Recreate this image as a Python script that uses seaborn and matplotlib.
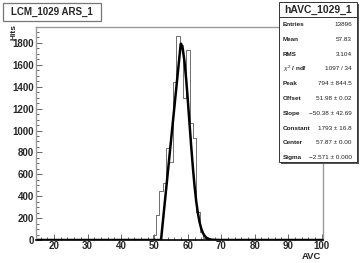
import numpy as np
import pandas as pd
import matplotlib
matplotlib.use("Agg")
import matplotlib.pyplot as plt
from matplotlib.patches import Rectangle
from matplotlib.ticker import MultipleLocator
import seaborn as sns

# ---------------- data ----------------
bin_centers = [50, 51, 52, 53, 54, 55, 56, 57, 58, 59, 60, 61, 62, 63, 64, 65, 66, 67]
bin_counts = [50, 230, 450, 518, 837, 710, 1446, 1863, 1780, 1294, 1735, 1065, 928, 259, 76, 20, 10, 5]

fit_x = [14.5, 51.98, 53.0, 54.0, 55.0, 56.0, 57.0, 57.5, 57.87, 58.0, 58.5, 59.0, 59.5,
         60.0, 60.5, 61.0, 61.5, 62.0, 62.5, 63.0, 63.5, 64.0, 64.5, 65.0, 65.5, 66.0,
         67.0, 68.0, 70.0, 100.5]
fit_y = [0, 0, 311, 615, 920, 1224, 1528, 1680, 1793, 1791, 1740, 1628, 1467,
         1272, 1063, 855, 662, 494, 354, 245, 163, 104, 64, 38, 22, 12,
         3, 1, 0, 0]

title_text = "LCM_1029 ARS_1"
stats_title = "hAVC_1029_1"
stats_labels = ["Entries", "Mean", "RMS", r"$\chi^2$ / ndf", "Peak", "Offset",
                "Slope", "Constant", "Center", "Sigma"]
stats_values = ["13896", "57.83", "3.104", "1097 / 34", "794 ± 844.5", "51.98 ± 0.02",
                "−50.38 ± 42.69", "1793 ± 16.8", "57.87 ± 0.00", "−2.571 ± 0.000"]
x_label = "AVC"
y_label = "Hits"

# ---------------- style ----------------
sns.set_theme(style="white")
plt.rcParams["font.family"] = ["Liberation Sans", "DejaVu Sans"]
plt.rcParams["mathtext.fontset"] = "custom"
plt.rcParams["mathtext.rm"] = "Liberation Sans"
plt.rcParams["mathtext.it"] = "Liberation Sans:italic"

W, H = 360, 263
fig = plt.figure(figsize=(W / 100, H / 100), dpi=100)
fig.patch.set_facecolor("white")


def px(x, y):
    return x / W, 1 - y / H


ax_l, ax_r, ax_t, ax_b = 35.7, 323.3, 26.7, 240.0
ax = fig.add_axes([ax_l / W, 1 - ax_b / H, (ax_r - ax_l) / W, (ax_b - ax_t) / H])
ax.set_facecolor("white")

# histogram: all unit bins across the axis, empty ones are zero
all_centers = np.arange(15, 101).astype(float)
count_map = dict(zip(bin_centers, bin_counts))
df = pd.DataFrame({"avc": all_centers,
                   "hits": [float(count_map.get(int(c), 0)) for c in all_centers]})
sns.histplot(data=df, x="avc", weights="hits", binwidth=1.0, binrange=(14.5, 100.5),
             element="step", fill=False, color="#6e6e6e", linewidth=0.7, ax=ax)

# fit curve
sns.lineplot(x=fit_x, y=fit_y, color="black", linewidth=1.8, ax=ax, sort=True)

ax.set_xlim(14.5, 100.5)
ax.set_ylim(0, 1948)
ax.set_xlabel("")
ax.set_ylabel("")

ax.xaxis.set_major_locator(MultipleLocator(10))
ax.xaxis.set_minor_locator(MultipleLocator(2))
ax.yaxis.set_major_locator(MultipleLocator(200))
ax.yaxis.set_minor_locator(MultipleLocator(50))
ax.set_xticks([20, 30, 40, 50, 60, 70, 80, 90, 100])
ax.tick_params(which="both", direction="in", top=False, right=False,
               bottom=True, left=True, color="#666666", width=0.7)
ax.tick_params(which="major", length=4.5, labelsize=7, pad=1.0)
ax.tick_params(which="minor", length=2.3)
for lab in ax.get_xticklabels() + ax.get_yticklabels():
    lab.set_fontweight("bold")

for s in ["left", "top", "right"]:
    ax.spines[s].set_color("#9a9a9a")
    ax.spines[s].set_linewidth(1.0)
ax.spines["bottom"].set_color("black")
ax.spines["bottom"].set_linewidth(1.2)

# axis titles
fig.text(*px(321, 256.5), x_label, ha="right", va="center", fontsize=6.8,
         fontweight="bold")
fig.text(*px(13.5, 31.5), y_label, ha="center", va="center", fontsize=6,
         fontweight="bold", rotation=90)

# title box
x0, y0, x1, y1 = 3, 3, 101, 20.7
fig.patches.append(Rectangle(px(x0, y1), (x1 - x0) / W, (y1 - y0) / H,
                             transform=fig.transFigure, facecolor="white",
                             edgecolor="#777777", linewidth=0.9))
fig.text(*px((x0 + x1) / 2, (y0 + y1) / 2 + 0.5), title_text, ha="center",
         va="center", fontsize=7, fontweight="bold")

# stats box with shadow
sx0, sy0, sx1, sy1 = 279, 2, 357, 162
fig.patches.append(Rectangle(px(sx0 + 2, sy1 + 2), (sx1 - sx0) / W, (sy1 - sy0) / H,
                             transform=fig.transFigure, facecolor="#555555",
                             edgecolor="none"))
fig.patches.append(Rectangle(px(sx0, sy1), (sx1 - sx0) / W, (sy1 - sy0) / H,
                             transform=fig.transFigure, facecolor="white",
                             edgecolor="#333333", linewidth=0.7))
fig.add_artist(plt.Line2D([sx0 / W, sx1 / W], [1 - 17 / H, 1 - 17 / H],
                          transform=fig.transFigure, color="#333333", linewidth=0.7))
fig.text(*px((sx0 + sx1) / 2, 9.5), stats_title, ha="center", va="center",
         fontsize=7.5, fontweight="bold")
row_y0, row_dy = 24.5, 14.8
for i, (lab, val) in enumerate(zip(stats_labels, stats_values)):
    yy = row_y0 + i * row_dy
    fig.text(*px(283, yy), lab, ha="left", va="center", fontsize=4.6,
             fontweight="bold", color="#222222")
    fig.text(*px(352, yy), val, ha="right", va="center", fontsize=4.6,
             color="#222222")

fig.savefig("out.png", dpi=100, facecolor="white")
